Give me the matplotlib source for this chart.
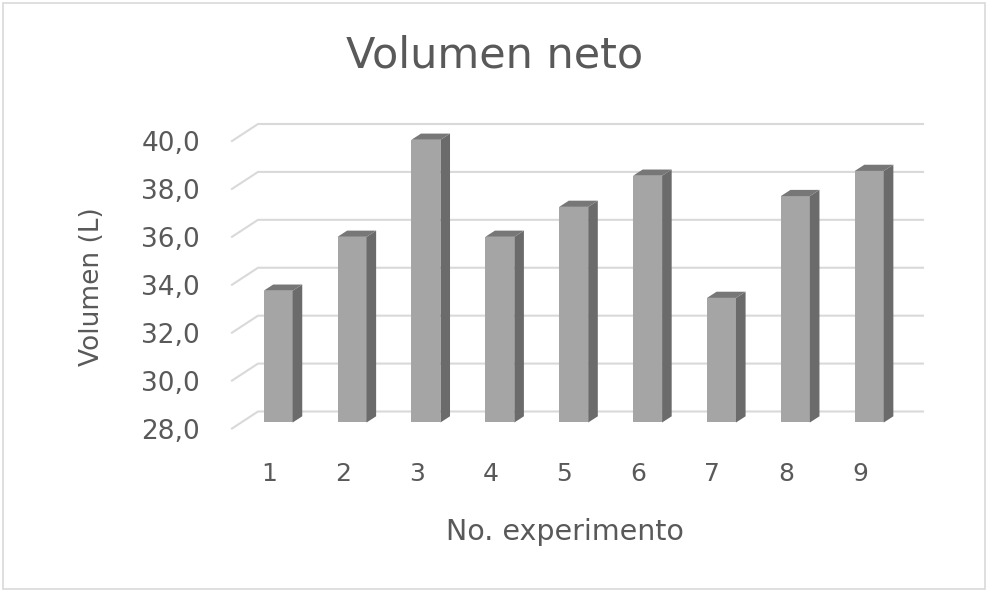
import matplotlib
matplotlib.use('Agg')
import matplotlib.pyplot as plt
from matplotlib.patches import Rectangle, Polygon

# data
experimentos = ['1', '2', '3', '4', '5', '6', '7', '8', '9']
volumen = [33.5, 35.75, 39.8, 35.75, 37.0, 38.3, 33.2, 37.45, 38.5]
y_ticks = [28, 30, 32, 34, 36, 38, 40]
y_labels = ['28,0', '30,0', '32,0', '34,0', '36,0', '38,0', '40,0']

TEXT = '#595959'
GRID = '#D9D9D9'
FRONT = '#A5A5A5'
SIDE = '#6B6B6B'
TOP = '#777777'

W, H = 987, 592
fig = plt.figure(figsize=(W / 100, H / 100), dpi=100)
fig.patch.set_facecolor('white')

left, right, bottom, top = 232, 897, 428.5, 141
ax = fig.add_axes([left / W, 1 - bottom / H, (right - left) / W, (bottom - top) / H])
ax.set_xlim(0.5, len(experimentos) + 0.5)
ax.set_ylim(28, 40)
for s in ax.spines.values():
    s.set_visible(False)
ax.patch.set_alpha(0)

# convert pixel depth offsets to data units
x0, y0 = ax.transData.transform((0, 28))
x1, y1 = ax.transData.transform((1, 29))
ppx, ppy = x1 - x0, y1 - y0

def depth(dx_px, dy_px):
    return dx_px / ppx, dy_px / ppy

Dx, Dy = depth(26, 17)          # back wall
fx, fy = depth(9.2, 6)          # bar front face
bx, by = depth(9.2 + 9.6, 6 + 6.2)  # bar back face

# gridlines on the back wall with the diagonal to the front
xmin, xmax = 0.5, len(experimentos) + 0.5
for v in y_ticks:
    ax.plot([xmin, xmin + Dx, xmax + Dx], [v, v + Dy, v + Dy],
            color=GRID, lw=1.5, clip_on=False, zorder=1)

bw = 29 / ppx
base = 28
for i, v in enumerate(volumen):
    c = i + 1
    xl, xr = c - bw / 2 + fx, c + bw / 2 + fx
    yb, yt = base + fy, v + fy
    ax.add_patch(Rectangle((xl, yb), bw, yt - yb, facecolor=FRONT,
                           edgecolor='none', clip_on=False, zorder=3))
    ax.add_patch(Polygon([(xr, yb), (xr + bx - fx, yb + by - fy),
                          (xr + bx - fx, yt + by - fy), (xr, yt)],
                         closed=True, facecolor=SIDE, edgecolor='none',
                         clip_on=False, zorder=3))
    ax.add_patch(Polygon([(xl, yt), (xr, yt), (xr + bx - fx, yt + by - fy),
                          (xl + bx - fx, yt + by - fy)],
                         closed=True, facecolor=TOP, edgecolor='none',
                         clip_on=False, zorder=3))

ax.set_yticks(y_ticks)
ax.set_yticklabels(y_labels)
ax.set_xticks(range(1, len(experimentos) + 1))
ax.set_xticklabels(experimentos)
ax.tick_params(axis='y', length=0, pad=23, labelsize=19, labelcolor=TEXT)
ax.tick_params(axis='x', length=0, pad=24, labelsize=18, labelcolor=TEXT)

fig.text(495 / W, 1 - 55 / H, 'Volumen neto', ha='center', va='center',
         fontsize=31, color=TEXT)
fig.text(565 / W, 1 - 532 / H, 'No. experimento', ha='center', va='center',
         fontsize=20.5, color=TEXT)
fig.text(92 / W, 1 - 287 / H, 'Volumen (L)', ha='center', va='center',
         rotation=90, fontsize=19, color=TEXT)

# chart area border
fig.patches.append(Rectangle((3 / W, 3 / H), (985 - 3) / W, (589 - 3) / H,
                             transform=fig.transFigure, fill=False,
                             edgecolor=GRID, lw=1.2))

fig.savefig('out.png', dpi=100)
